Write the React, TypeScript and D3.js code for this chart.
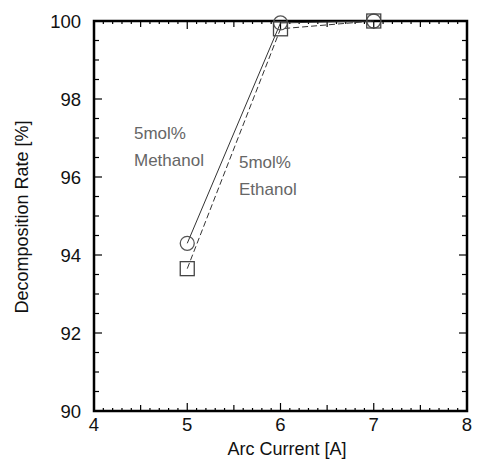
import React from 'react';
import * as d3 from 'd3';

const current = [5, 6, 7];
const methanol = [94.3, 99.95, 100];
const ethanol = [93.65, 99.8, 100];
const xTicks = [4, 5, 6, 7, 8];
const yTicks = [90, 92, 94, 96, 98, 100];

const W = 481, H = 465;
const m = { left: 94, right: 467, top: 21, bottom: 411 };

const App = () => {
  const x = d3.scaleLinear().domain([4, 8]).range([m.left, m.right]);
  const y = d3.scaleLinear().domain([90, 100]).range([m.bottom, m.top]);
  const line = d3.line<number>().x((_, i) => x(current[i])).y(d => y(d));

  const xMinor = d3.range(4, 8.0001, 0.1).map(v => Math.round(v * 10) / 10);
  const yMinor = d3.range(90, 100.0001, 0.5);
  const font = 'Liberation Sans, Arial, sans-serif';

  return (
    <svg width={W} height={H} style={{ position: 'absolute', left: 0, top: 0, background: '#fff' }}>
      {/* x ticks top and bottom */}
      {xMinor.map(v => {
        const major = Math.abs(v - Math.round(v)) < 1e-6;
        const half = Math.abs(v * 2 - Math.round(v * 2)) < 1e-6;
        const len = major ? 8 : half ? 6 : 3;
        return (
          <g key={'x' + v}>
            <line x1={x(v)} x2={x(v)} y1={m.bottom} y2={m.bottom - len} stroke="#000" strokeWidth={1.2} />
            <line x1={x(v)} x2={x(v)} y1={m.top} y2={m.top + len} stroke="#000" strokeWidth={1.2} />
          </g>
        );
      })}
      {yMinor.map(v => {
        const major = v % 2 === 0;
        const len = major ? 8 : 5;
        return (
          <g key={'y' + v}>
            <line x1={m.left} x2={m.left + len} y1={y(v)} y2={y(v)} stroke="#000" strokeWidth={1.2} />
            <line x1={m.right} x2={m.right - len} y1={y(v)} y2={y(v)} stroke="#000" strokeWidth={1.2} />
          </g>
        );
      })}
      <rect x={m.left} y={m.top} width={m.right - m.left} height={m.bottom - m.top} fill="none" stroke="#000" strokeWidth={2.5} />

      {xTicks.map(v => (
        <text key={'xl' + v} x={x(v)} y={m.bottom + 20} textAnchor="middle" fontFamily={font} fontSize={18.5} fill="#111">{v}</text>
      ))}
      {yTicks.map(v => (
        <text key={'yl' + v} x={m.left - 13} y={y(v) + 7} textAnchor="end" fontFamily={font} fontSize={18.5} fill="#111">{v}</text>
      ))}
      <text x={287} y={455} textAnchor="middle" fontFamily={font} fontSize={18} fill="#111">Arc Current [A]</text>
      <text transform={`translate(28,${217}) rotate(-90)`} textAnchor="middle" fontFamily={font} fontSize={18} fill="#111">Decomposition Rate [%]</text>

      <path d={line(ethanol) || ''} fill="none" stroke="#333" strokeWidth={1} strokeDasharray="6,3" />
      <path d={line(methanol) || ''} fill="none" stroke="#333" strokeWidth={1} />
      {methanol.map((v, i) => (
        <circle key={'c' + i} cx={x(current[i])} cy={y(v)} r={7} fill="none" stroke="#555" strokeWidth={1.3} />
      ))}
      {ethanol.map((v, i) => (
        <rect key={'s' + i} x={x(current[i]) - 7} y={y(v) - 7} width={14} height={14} fill="none" stroke="#444" strokeWidth={1.3} />
      ))}

      <text fontFamily={font} fontSize={17} fill="#666">
        <tspan x={134} y={139}>5mol%</tspan>
        <tspan x={134} y={166}>Methanol</tspan>
      </text>
      <text fontFamily={font} fontSize={17} fill="#666">
        <tspan x={239} y={168}>5mol%</tspan>
        <tspan x={239} y={195}>Ethanol</tspan>
      </text>
    </svg>
  );
};

export default App;
